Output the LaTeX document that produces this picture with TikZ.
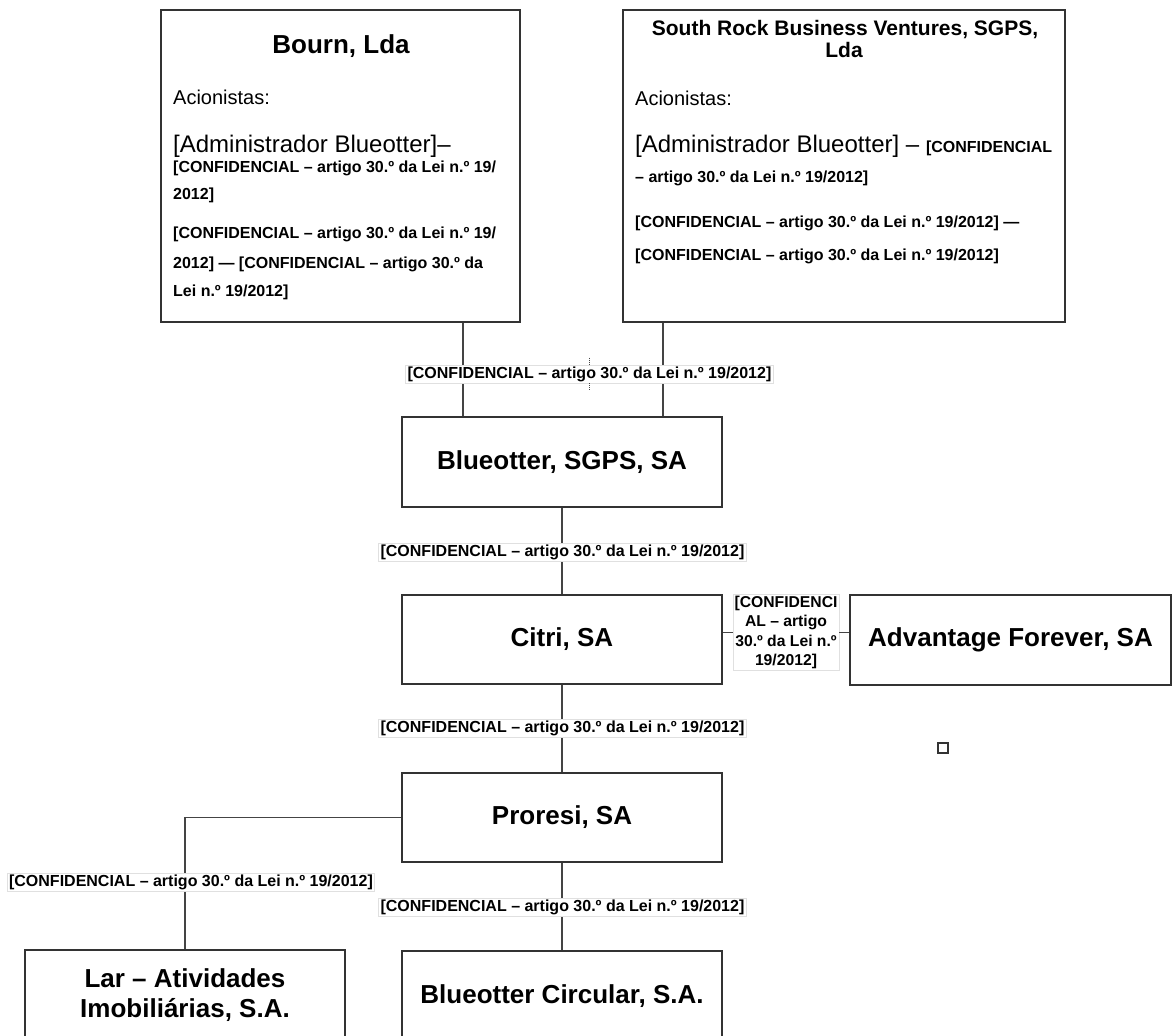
\documentclass[tikz,border=0pt]{standalone}
\usepackage{fontspec}
\setmainfont{Liberation Sans}
\definecolor{boxc}{HTML}{333333}
\definecolor{linec}{HTML}{444444}
\definecolor{labc}{HTML}{E0E0E0}
\newcommand{\conffnt}{\fontsize{16}{19}\selectfont\bfseries}
\begin{document}
\begin{tikzpicture}[x=1pt,y=-1pt,
  box/.style={draw=boxc, line width=1.8pt, inner sep=0pt},
  bigtxt/.style={font=\fontsize{26}{30}\selectfont\bfseries},
  conn/.style={draw=linec, line width=1.5pt},
  lab/.style={fill=white, draw=labc, line width=0.8pt, inner xsep=2pt, inner ysep=1.5pt, font=\conffnt},
  txt/.style={inner sep=0pt, anchor=base west},
  ctitle/.style={inner sep=0pt, anchor=base},
  regf/.style={font=\fontsize{20}{24}\selectfont},
  admf/.style={font=\fontsize{24}{28}\selectfont},
  conff/.style={font=\conffnt},
  tick/.style={draw=linec, line width=1pt, densely dotted}
]
\useasboundingbox (0,0) rectangle (1173,1036);
\clip (0,0) rectangle (1173,1036);

% ---------- boxes ----------
\node[box, minimum width=359, minimum height=312] (bourn) at (340.5,166) {};
\node[box, minimum width=442, minimum height=312] (south) at (844,166) {};
\node[box, bigtxt, minimum width=320, minimum height=90] (blue) at (562,462) {Blueotter, SGPS, SA};
\node[box, bigtxt, minimum width=320, minimum height=89] (citri) at (562,639.5) {Citri, SA};
\node[box, bigtxt, minimum width=321, minimum height=90] (adv) at (1010.5,640) {Advantage Forever, SA};
\node[box, bigtxt, minimum width=320, minimum height=89] (proresi) at (562,817.5) {Proresi, SA};
\node[box, bigtxt, align=center, minimum width=320, minimum height=90] (lar) at (185,995) {Lar – Atividades\\Imobiliárias, S.A.};
\node[box, bigtxt, minimum width=320, minimum height=90] (circ) at (562,996) {Blueotter Circular, S.A.};
\node[draw=boxc, line width=1.8pt, minimum size=10pt, inner sep=0pt] (sq) at (943,748) {};

% ---------- text of Bourn ----------
\node[ctitle, bigtxt] (bt) at (341,53) {Bourn, Lda};
\node[txt, regf] (ba) at (173,104) {Acionistas:};
\node[txt, admf] (bm) at (173,152) {[Administrador Blueotter]–};
\node[txt, conff] (bc1) at (173,172) {[CONFIDENCIAL – artigo 30.º da Lei n.º 19/};
\node[txt, conff] (bc2) at (173,199) {2012]};
\node[txt, conff] (bc3) at (173,238) {[CONFIDENCIAL – artigo 30.º da Lei n.º 19/};
\node[txt, conff] (bc4) at (173,268) {2012] — [CONFIDENCIAL – artigo 30.º da};
\node[txt, conff] (bc5) at (173,296) {Lei n.º 19/2012]};

% ---------- text of South Rock ----------
\node[ctitle, font=\fontsize{21}{23}\selectfont\bfseries] (st1) at (845,35) {South Rock Business Ventures, SGPS,};
\node[ctitle, font=\fontsize{21}{23}\selectfont\bfseries] (st2) at (844,57) {Lda};
\node[txt, regf] (sa) at (635,105) {Acionistas:};
\node[txt, admf] (sm) at (635,152) {[Administrador Blueotter] – {\conffnt[CONFIDENCIAL}};
\node[txt, conff] (sc1) at (635,182) {– artigo 30.º da Lei n.º 19/2012]};
\node[txt, conff] (sc2) at (635,227) {[CONFIDENCIAL – artigo 30.º da Lei n.º 19/2012] —};
\node[txt, conff] (sc3) at (635,260) {[CONFIDENCIAL – artigo 30.º da Lei n.º 19/2012]};

% ---------- connectors ----------
\coordinate (xa) at (463,0);
\coordinate (xb) at (663,0);
\draw[conn] (bourn.south -| xa) -- (blue.north -| xa);
\draw[conn] (south.south -| xb) -- (blue.north -| xb);
\draw[conn] (blue.south) -- (citri.north);
\draw[conn] (citri.south) -- (proresi.north);
\draw[conn] (proresi.south) -- (circ.north);
\draw[conn] (proresi.west) -- (proresi.west -| lar.north) -- (lar.north);

% ---------- labels ----------
\node[lab] (l1) at (589.5,374) {[CONFIDENCIAL – artigo 30.º da Lei n.º 19/2012]};
\node[lab] (l2) at (562.5,552) {[CONFIDENCIAL – artigo 30.º da Lei n.º 19/2012]};
\node[lab] (l3) at (562.5,728) {[CONFIDENCIAL – artigo 30.º da Lei n.º 19/2012]};
\node[lab] (l4) at (191,882) {[CONFIDENCIAL – artigo 30.º da Lei n.º 19/2012]};
\node[lab] (l5) at (562.5,907) {[CONFIDENCIAL – artigo 30.º da Lei n.º 19/2012]};
\node[lab, align=center, inner xsep=1.5pt, font=\fontsize{15.7}{19.5}\selectfont\bfseries] (sl) at (786,632.5)
  {[CONFIDENCI\\AL – artigo\\30.º da Lei n.º\\19/2012]};
\draw[conn] (sl.west -| citri.east) -- (sl.west);
\draw[conn] (sl.east) -- (sl.east -| adv.west);
\draw[tick] ([yshift=7pt]l1.north) -- (l1.north);
\draw[tick] (l1.south) -- ([yshift=-7pt]l1.south);
\end{tikzpicture}
\end{document}
